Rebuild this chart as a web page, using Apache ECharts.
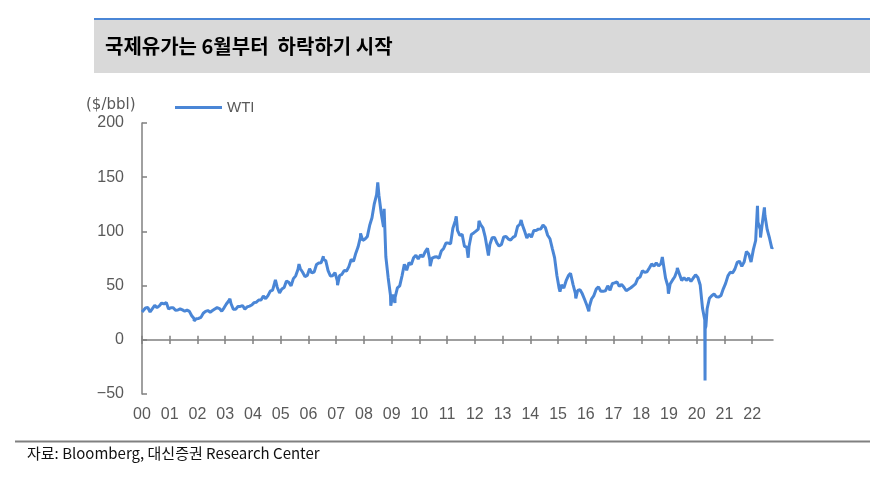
<!DOCTYPE html>
<html>
<head>
<meta charset="utf-8">
<script src="https://cdn.jsdelivr.net/npm/echarts@6/dist/echarts.min.js"></script>
<style>
  html, body { margin: 0; padding: 0; background: #fff; }
  #chart { width: 885px; height: 477px; }
</style>
</head>
<body>
<div id="chart"></div>
<script>
// WTI 월별 값 (2000-01 ~ 2022-09)
const monthlyWti = [
  27.3, 29.4, 29.8, 25.7, 28.8, 31.8, 29.7, 31.3, 33.9, 33.1, 34.4, 28.4, // 2000
  29.6, 29.6, 27.3, 27.5, 28.6, 27.6, 26.4, 27.4, 26.2, 22.2, 19.6, 19.4, // 2001
  19.7, 20.7, 24.5, 26.2, 27.0, 25.5, 27.0, 28.4, 29.7, 28.8, 26.4, 29.5, // 2002
  33.0, 35.8, 33.5, 28.2, 28.1, 30.7, 30.8, 31.6, 28.3, 30.3, 31.1, 32.1, // 2003
  34.3, 34.7, 36.7, 36.8, 40.3, 38.0, 40.8, 44.9, 45.9, 53.3, 48.5, 43.2, // 2004
  46.8, 48.2, 54.2, 53.0, 49.8, 56.4, 59.0, 65.0, 65.6, 62.3, 58.3, 59.4, // 2005
  65.5, 61.6, 62.7, 69.4, 70.8, 71.0, 74.4, 73.0, 63.8, 58.9, 59.1, 62.0, // 2006
  54.5, 59.3, 60.4, 64.0, 63.5, 67.5, 74.1, 72.4, 79.9, 85.8, 94.8, 91.7, // 2007
  93.0, 95.4, 105.5, 112.6, 125.4, 133.9, 133.4, 116.7, 104.1, 76.6, 57.3, 41.1, // 2008
  41.7, 39.1, 47.9, 49.7, 59.0, 69.6, 64.2, 71.1, 69.4, 75.7, 78.0, 74.5, // 2009
  78.3, 76.4, 81.2, 84.3, 73.7, 75.3, 76.3, 76.6, 75.2, 81.9, 84.3, 89.2, // 2010
  89.2, 88.6, 102.9, 109.5, 100.9, 96.3, 97.3, 86.3, 85.5, 86.3, 97.2, 98.6, // 2011
  100.3, 102.2, 106.2, 103.3, 94.7, 82.3, 87.9, 94.1, 94.5, 89.5, 86.5, 87.9, // 2012
  94.8, 95.3, 92.9, 92.0, 94.5, 95.8, 104.7, 106.6, 106.3, 100.5, 93.9, 97.6, // 2013
  94.6, 100.8, 100.8, 102.1, 102.2, 105.8, 103.6, 96.5, 93.2, 84.4, 75.8, 59.3, // 2014
  47.2, 50.6, 47.8, 54.5, 59.3, 59.8, 50.9, 42.9, 45.5, 46.2, 42.4, 37.2, // 2015
  31.7, 30.3, 37.6, 40.8, 46.7, 48.8, 44.7, 44.7, 45.2, 49.8, 45.7, 52.0, // 2016
  52.5, 53.5, 49.3, 51.1, 48.5, 45.2, 46.6, 48.0, 49.8, 51.6, 56.6, 57.9, // 2017
  63.7, 62.2, 62.7, 66.3, 70.0, 67.9, 71.0, 68.1, 70.2, 70.8, 57.0, 49.5, // 2018
  51.4, 55.0, 58.2, 63.9, 60.8, 54.7, 57.4, 54.8, 57.0, 54.0, 57.0, 59.9, // 2019
  57.5, 50.5, 29.2, 16.6, 28.6, 38.3, 40.7, 42.3, 39.6, 39.4, 40.9, 47.0, // 2020
  52.0, 59.0, 62.3, 61.7, 65.2, 71.4, 72.5, 67.7, 71.7, 81.5, 79.2, 71.7, // 2021
  83.2, 91.6, 108.5, 101.8, 109.6, 114.8, 101.6, 93.7, 84.3             // 2022
];

// 일별 고점/저점 (연도 소수)
const extremeDates = [
  2000.0, 2001.88, 2003.17, 2004.81, 2005.66, 2006.54, 2007.05, 2007.88,
  2008.50, 2008.73, 2008.97, 2009.12, 2010.39, 2011.33, 2011.76, 2012.15,
  2012.49, 2013.67, 2014.47, 2015.07, 2015.45, 2015.64, 2016.11, 2018.76,
  2018.98, 2019.30, 2020.29, 2020.30, 2020.305, 2020.33, 2022.19, 2022.30,
  2022.44, 2022.74
];
const extremeValues = [
  25.6, 17.5, 37.8, 55.2, 69.8, 77.0, 50.5, 98.2,
  145.3, 120.9, 31.4, 34.0, 68.0, 113.9, 75.7, 109.8,
  77.7, 110.5, 107.3, 44.5, 61.4, 38.2, 26.2, 76.4,
  42.5, 66.3, 18.3, -37.6, 10.0, 12.3, 123.7, 94.3,
  122.1, 85.5
];

const years = [];
for (let y = 2000; y <= 2022; y++) years.push(y);
const yearLabels = years.map(y => String(y % 100).padStart(2, '0'));

const points = monthlyWti.map((v, i) => [2000 + (i + 0.5) / 12, v])
  .concat(extremeDates.map((d, i) => [d, extremeValues[i]]))
  .sort((a, b) => a[0] - b[0]);

const axisColor = '#808080';
const labelColor = '#595959';
const numFont = 'Liberation Sans';
const tickStyle = { color: axisColor, width: 1.5 };

const chart = echarts.init(document.getElementById('chart'));
chart.setOption({
  animation: false,
  grid: [
    { left: 142, right: 112, top: 123, bottom: 83 },
    // 0선 아래쪽 눈금용 보조 그리드 (y=0 위치에서 시작)
    { left: 142, right: 112, top: 340, height: 20 }
  ],
  legend: {
    left: 175,
    top: 100,
    padding: 0,
    icon: 'rect',
    itemWidth: 47,
    itemHeight: 3,
    textStyle: { color: labelColor, fontSize: 15, fontFamily: numFont },
    data: ['WTI']
  },
  xAxis: [
    {
      // 연도 라벨 (그리드 하단)
      type: 'value', min: 2000, max: 2022.75, gridIndex: 0,
      axisLine: { show: false, onZero: false },
      axisTick: { show: false },
      splitLine: { show: false },
      axisLabel: {
        customValues: years,
        formatter: v => yearLabels[years.indexOf(Math.round(v))],
        color: labelColor, fontSize: 16, fontFamily: numFont, margin: 13
      }
    },
    {
      // 0선 + 위쪽 눈금
      type: 'value', min: 2000, max: 2022.75, gridIndex: 0, position: 'bottom',
      axisLine: { show: true, onZero: true, lineStyle: tickStyle },
      axisTick: { show: true, inside: true, length: 4, customValues: years, lineStyle: tickStyle },
      axisLabel: { show: false },
      splitLine: { show: false }
    },
    {
      // 아래쪽 눈금
      type: 'value', min: 2000, max: 2022.75, gridIndex: 1, position: 'top',
      axisLine: { show: false, onZero: false },
      axisTick: { show: true, inside: true, length: 4, customValues: years, lineStyle: tickStyle },
      axisLabel: { show: false },
      splitLine: { show: false }
    }
  ],
  yAxis: [
    {
      type: 'value', min: -50, max: 200, interval: 50, gridIndex: 0,
      axisLine: { show: true, onZero: false, lineStyle: tickStyle },
      axisTick: { show: true, inside: true, length: 5, lineStyle: tickStyle },
      splitLine: { show: false },
      axisLabel: {
        formatter: v => String(v).replace('-', '\u2212'),
        color: labelColor, fontSize: 16, fontFamily: numFont, margin: 18
      }
    },
    {
      type: 'value', gridIndex: 1, show: false, min: 0, max: 1
    }
  ],
  series: [
    {
      name: 'WTI',
      type: 'line',
      xAxisIndex: 0,
      yAxisIndex: 0,
      showSymbol: false,
      symbol: 'none',
      color: '#4a86d6',
      lineStyle: { width: 3, color: '#4a86d6' },
      data: points
    }
  ],
  graphic: [
    { type: 'rect', shape: { x: 94, y: 19, width: 776, height: 54 }, style: { fill: '#d9d9d9' }, silent: true },
    { type: 'line', shape: { x1: 94, y1: 19, x2: 870, y2: 19 }, style: { stroke: '#4a86d6', lineWidth: 2 }, silent: true },
    {
      type: 'text', left: 105, top: 36,
      style: { text: '국제유가는 6월부터  하락하기 시작', fill: '#000', font: 'bold 20px "Noto Sans CJK KR"' }
    },
    {
      type: 'text', left: 86, top: 98,
      style: { text: '($/bbl)', fill: labelColor, font: '15px "DejaVu Sans"' }
    },
    { type: 'line', shape: { x1: 15, y1: 441.5, x2: 870, y2: 441.5 }, style: { stroke: axisColor, lineWidth: 2 }, silent: true },
    {
      type: 'text', left: 27, top: 446,
      style: { text: '자료: Bloomberg, 대신증권 Research Center', fill: '#111', font: '15px "Noto Sans CJK KR"' }
    }
  ]
});
</script>
</body>
</html>
